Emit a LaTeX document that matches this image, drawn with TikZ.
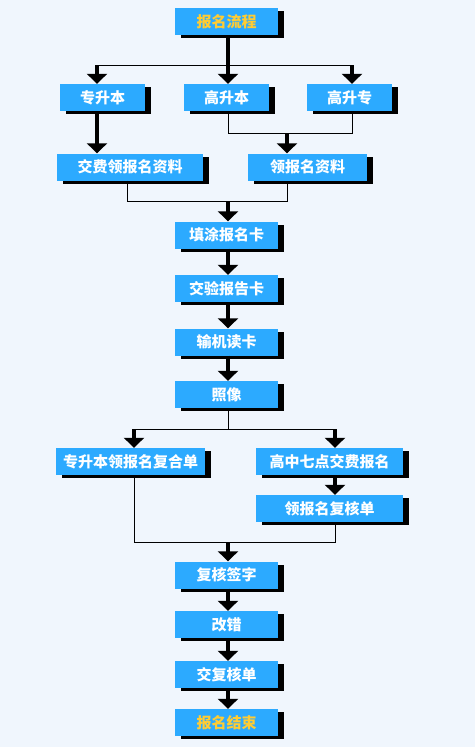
\documentclass[tikz,border=0pt]{standalone}
\usepackage{fontspec}
\newfontfamily\cjk{Noto Sans CJK SC}
\usetikzlibrary{arrows.meta}
\usetikzlibrary{shadows}
\definecolor{pagebg}{RGB}{240,246,253}
\definecolor{boxblue}{RGB}{44,170,255}
\definecolor{titleyellow}{RGB}{255,204,51}

\begin{document}
\begin{tikzpicture}[x=1pt,y=-1pt]
		\tikzset{box/.style={shape = rectangle, fill = boxblue, text = white, inner sep = 0pt,
				minimum height = 27pt, font = \cjk\bfseries\fontsize{15}{15}\selectfont,
				drop shadow={shadow xshift = 6pt, shadow yshift = -3pt, fill = black, opacity = 1}}}
		\tikzset{title/.style={box, text = titleyellow}}
		\tikzset{link/.style={line width = 1pt}}
		\tikzset{go/.style={line width = 4pt, -{Triangle[width = 20pt, length = 10pt]}}}
		\path[use as bounding box, fill = pagebg] (0, 0) rectangle (475, 747);
		%boxes
		\node[title, minimum width = 103pt] (start) at (226.5, 21.5) {报名流程};
		\node[box, minimum width = 85pt] (zsb) at (102.5, 97.5) {专升本};
		\node[box, minimum width = 85pt] (gsb) at (226.5, 97.5) {高升本};
		\node[box, minimum width = 85pt] (gsz) at (349.5, 97.5) {高升专};
		\node[box, minimum width = 146pt] (jfzl) at (130, 167) {交费领报名资料};
		\node[box, minimum width = 119pt] (lzl) at (307.5, 167) {领报名资料};
		\node[box, minimum width = 103pt] (tt) at (226.5, 235) {填涂报名卡};
		\node[box, minimum width = 103pt] (jy) at (226.5, 288.5) {交验报告卡};
		\node[box, minimum width = 103pt] (sj) at (226.5, 342) {输机读卡};
		\node[box, minimum width = 103pt] (zx) at (226.5, 394.5) {照像};
		\node[box, minimum width = 149pt] (zfh) at (130.5, 461.5) {专升本领报名复合单};
		\node[box, minimum width = 147pt] (gz) at (329.5, 461.5) {高中七点交费报名};
		\node[box, minimum width = 147pt] (lfh) at (329.5, 508.5) {领报名复核单};
		\node[box, minimum width = 103pt] (fh) at (226.5, 575) {复核签字};
		\node[box, minimum width = 103pt] (gc) at (226.5, 624.5) {改错};
		\node[box, minimum width = 103pt] (jfh) at (226.5, 674.5) {交复核单};
		\node[title, minimum width = 103pt] (end) at (226.5, 722.5) {报名结束};
		%junctions
		\coordinate (c) at (228, 0);
		\coordinate (j1a) at (97, 65);
		\coordinate (j1b) at (352, 65);
		\coordinate (j2a) at (228, 133);
		\coordinate (j2b) at (352, 133);
		\coordinate (j2) at (287, 133);
		\coordinate (j3a) at (127, 201);
		\coordinate (j3b) at (287, 201);
		\coordinate (j3) at (228, 201);
		\coordinate (j4a) at (134, 429);
		\coordinate (j4b) at (335, 429);
		\coordinate (j4) at (228, 429);
		\coordinate (j5a) at (134, 542);
		\coordinate (j5b) at (335, 542);
		\coordinate (j5) at (228, 542);
		%edges
		\draw[link] (j1a) -- (j1b);
		\draw[go] (c |- start.south) -- (c |- gsb.north);
		\draw[go] (j1a) -- (j1a |- zsb.north);
		\draw[go] (j1b) -- (j1b |- gsz.north);
		\draw[go] (j1a |- zsb.south) -- (j1a |- jfzl.north);
		\draw[link] (j2a |- gsb.south) -- (j2a) -- (j2b) -- (j2b |- gsz.south);
		\draw[go] (j2) -- (j2 |- lzl.north);
		\draw[link] (j3a |- jfzl.south) -- (j3a) -- (j3b) -- (j3b |- lzl.south);
		\draw[go] (j3) -- (j3 |- tt.north);
		\draw[go] (c |- tt.south) -- (c |- jy.north);
		\draw[go] (c |- jy.south) -- (c |- sj.north);
		\draw[go] (c |- sj.south) -- (c |- zx.north);
		\draw[link] (j4 |- zx.south) -- (j4);
		\draw[link] (j4a) -- (j4b);
		\draw[go] (j4a) -- (j4a |- zfh.north);
		\draw[go] (j4b) -- (j4b |- gz.north);
		\draw[go] (j4b |- gz.south) -- (j4b |- lfh.north);
		\draw[link] (j5a |- zfh.south) -- (j5a) -- (j5b) -- (j5b |- lfh.south);
		\draw[go] (j5) -- (j5 |- fh.north);
		\draw[go] (c |- fh.south) -- (c |- gc.north);
		\draw[go] (c |- gc.south) -- (c |- jfh.north);
		\draw[go] (c |- jfh.south) -- (c |- end.north);
\end{tikzpicture}
\end{document}
